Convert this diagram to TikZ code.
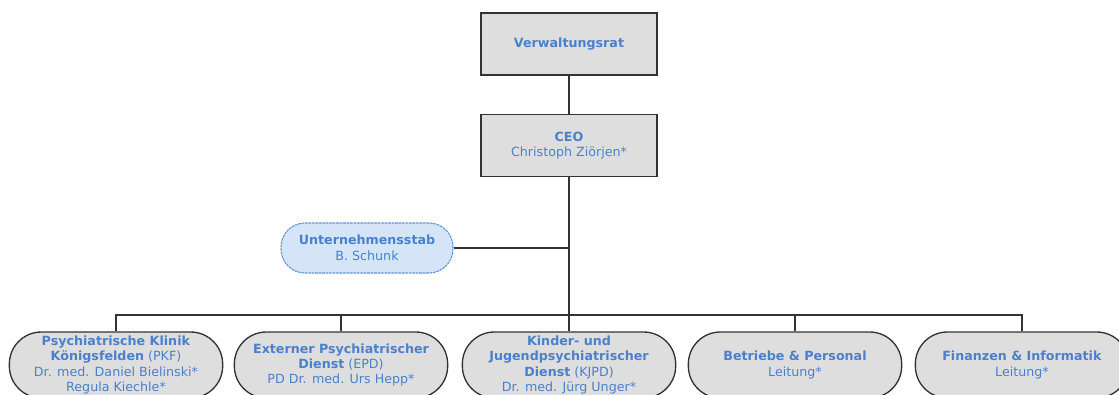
\documentclass[tikz,border=0pt]{standalone}
\usepackage{fontspec}
\setmainfont{DejaVu Sans}
\usetikzlibrary{calc}
\definecolor{boxgray}{HTML}{DEDEDE}
\definecolor{linegray}{HTML}{333333}
\definecolor{textblue}{HTML}{4A80CC}
\definecolor{stabfill}{HTML}{D6E4F7}
\definecolor{stabline}{HTML}{5F95D8}
\tikzstyle{orgtext}=[text=textblue,align=center,font=\fontsize{9.5}{11.6}\selectfont]
\tikzstyle{board}=[orgtext,draw=linegray,fill=boxgray,line width=1pt,minimum width=132pt,minimum height=46.5pt]
\tikzstyle{staff}=[orgtext,draw=stabline,fill=stabfill,line width=0.8pt,dash pattern=on 2pt off 0.6pt,rounded corners=18pt,minimum width=129pt,minimum height=37.5pt]
\tikzstyle{unit}=[orgtext,draw=linegray,fill=boxgray,line width=1pt,rounded corners=24pt,minimum width=160pt,minimum height=49.5pt,inner sep=1pt]
\tikzstyle{link}=[draw=linegray,line width=1pt]
\newcommand{\drawunit}[3]{
  \node[unit] (#1) at (#2,365) {#3};
}

\begin{document}
\begin{tikzpicture}[x=0.75pt,y=-0.75pt]
  \useasboundingbox (0,0) rectangle (1119,394);
  % top of the chart
  \node[board] (vr) at (569,44) {\textbf{Verwaltungsrat}};
  \node[board] (ceo) at (569,145.5) {\textbf{CEO}\\Christoph Ziörjen*};
  \node[staff] (stab) at (367,248) {\textbf{Unternehmensstab}\\B. Schunk};
  \coordinate (bus) at (569,315);
  % the five units
  \drawunit{pkf}{116}{\textbf{Psychiatrische Klinik}\\\textbf{Königsfelden} (PKF)\\Dr. med. Daniel Bielinski*\\Regula Kiechle*}
  \drawunit{epd}{341}{\textbf{Externer Psychiatrischer}\\\textbf{Dienst} (EPD)\\PD Dr. med. Urs Hepp*}
  \drawunit{kjpd}{569}{\textbf{Kinder- und}\\\textbf{Jugendpsychiatrischer}\\\textbf{Dienst} (KJPD)\\Dr. med. Jürg Unger*}
  \drawunit{bp}{795}{\textbf{Betriebe \& Personal}\\Leitung*}
  \drawunit{fi}{1022}{\textbf{Finanzen \& Informatik}\\Leitung*}
  % connectors
  \draw[link] (vr) -- (ceo);
  \draw[link] (ceo) -- (bus);
  \draw[link] (stab) -- (stab -| ceo.south);
  \foreach \u in {pkf,epd,kjpd,bp,fi} {
    \draw[link] (bus) -| (\u.north);
  }
\end{tikzpicture}
\end{document}
